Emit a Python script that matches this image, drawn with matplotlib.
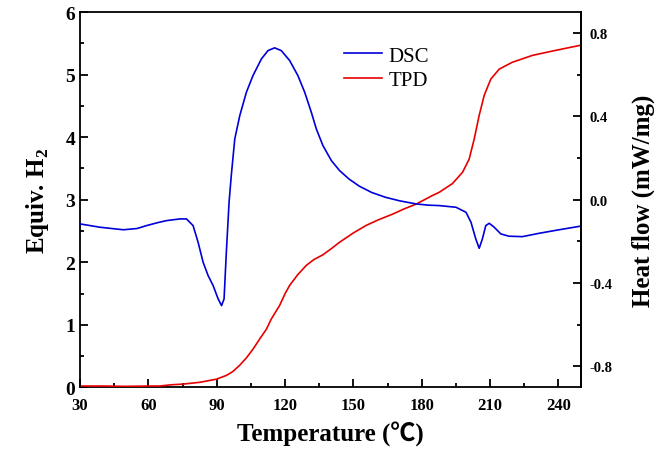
import matplotlib as mpl
import matplotlib.pyplot as plt
from matplotlib.ticker import MultipleLocator

mpl.use('Agg')
mpl.rcParams['mathtext.fontset'] = 'custom'
mpl.rcParams['mathtext.rm'] = 'Liberation Serif:bold'

# TPD curve (left axis, equiv. H2)
tpd_t = [30, 40, 50, 60, 65, 70, 75, 82.6, 89.9, 94.2, 97, 100, 103, 105.9,
         108.8, 111.8, 113.9, 117.6, 120, 122, 125.5, 129.3, 132.5, 136.6, 140,
         143.9, 150, 155.6, 161, 167.2, 172, 177.5, 184.8, 187.7, 193.5, 197.9,
         200.8, 203, 205.2, 207.4, 210.3, 214, 219.8, 228.6, 238.8, 249.5]
tpd_v = [0.02, 0.02, 0.015, 0.02, 0.02, 0.04, 0.05, 0.08, 0.13, 0.19, 0.25, 0.35,
         0.47, 0.61, 0.77, 0.93, 1.09, 1.31, 1.50, 1.63, 1.80, 1.95, 2.04, 2.12,
         2.21, 2.32, 2.47, 2.59, 2.68, 2.77, 2.85, 2.93, 3.07, 3.12, 3.26, 3.44,
         3.65, 3.97, 4.35, 4.67, 4.93, 5.09, 5.20, 5.31, 5.39, 5.47]

# DSC curve (right axis, heat flow)
dsc_t = [30, 38.8, 49, 55, 59.2, 64, 68, 73.8, 76.7, 79.6, 81.8, 84, 86.2, 88.4,
         90.6, 92.1, 93.2, 94.2, 95.4, 96.4, 97.9, 100.1, 103, 105.9, 109.6,
         112.5, 115.4, 118.3, 122, 125.6, 128.6, 131.5, 133.7, 136.6, 140.3,
         143.9, 148, 152.6, 158, 164, 170.2, 177.5, 183, 187.7, 195, 199.4,
         201.6, 203.7, 205.2, 206.6, 208.1, 209.6, 211.8, 214.7, 218.3, 224.2,
         231.5, 240.3, 249.5]
dsc_h = [-0.116, -0.132, -0.144, -0.138, -0.124, -0.11, -0.10, -0.092, -0.092,
         -0.124, -0.204, -0.30, -0.364, -0.412, -0.476, -0.508, -0.476, -0.252,
         -0.012, 0.12, 0.292, 0.404, 0.516, 0.596, 0.676, 0.716, 0.729, 0.716,
         0.668, 0.596, 0.516, 0.42, 0.34, 0.26, 0.188, 0.14, 0.10, 0.065, 0.035,
         0.012, -0.005, -0.02, -0.026, -0.028, -0.036, -0.06, -0.108, -0.188,
         -0.233, -0.188, -0.124, -0.113, -0.132, -0.164, -0.175, -0.177, -0.161,
         -0.144, -0.127]

serif = ['Liberation Serif', 'DejaVu Serif']
fig = plt.figure(figsize=(6.62, 4.56), dpi=100)
ax = fig.add_axes([0.121, 0.1485, 0.757, 0.8225])
ax2 = ax.twinx()

l2, = ax.plot(tpd_t, tpd_v, color='#e80000', lw=1.2, label='TPD')
l1, = ax2.plot(dsc_t, dsc_h, color='#0000d8', lw=1.2, label='DSC')
for side in ('bottom', 'top', 'left'):
    ax2.spines[side].set_visible(False)
ax.spines['bottom'].set_zorder(1)

ax.set_xlim(30, 250)
ax.set_ylim(0, 6)
ax2.set_ylim(-0.9, 0.9)

ax.xaxis.set_major_locator(MultipleLocator(30))
ax.xaxis.set_minor_locator(MultipleLocator(15))
ax.yaxis.set_major_locator(MultipleLocator(1))
ax.yaxis.set_minor_locator(MultipleLocator(0.5))
ax2.set_yticks([-0.8, -0.4, 0.0, 0.4, 0.8])
ax2.set_yticklabels(['-0.8', '-0.4', '0.0', '0.4', '0.8'])
ax2.yaxis.set_minor_locator(MultipleLocator(0.2))

ax.tick_params(which='major', direction='in', length=6, width=1.3)
ax.tick_params(which='minor', direction='in', length=3, width=1.3)
ax.tick_params(axis='x', pad=7)
ax2.tick_params(which='major', direction='in', length=6, width=1.3, pad=6)
ax2.tick_params(which='minor', direction='in', length=3, width=1.3)
for a in (ax, ax2):
    for s in a.spines.values():
        s.set_linewidth(1.3)

for lab in ax.get_xticklabels():
    lab.set_fontfamily(serif)
    lab.set_fontweight('bold')
    lab.set_fontsize(12)
for lab in ax.get_yticklabels():
    lab.set_fontfamily(serif)
    lab.set_fontweight('bold')
    lab.set_fontsize(14)
for lab in ax2.get_yticklabels():
    lab.set_fontfamily(serif)
    lab.set_fontweight('bold')
    lab.set_fontsize(10.5)

ax.set_xlabel('Temperature (℃)', family=['Liberation Serif', 'Noto Sans CJK SC'],
              fontweight='bold', fontsize=18, labelpad=6)
ax.set_ylabel('Equiv. H$_2$', family=serif, fontweight='bold', fontsize=18,
              labelpad=10)
ax2.set_ylabel('Heat flow (mW/mg)', family=serif, fontweight='bold', fontsize=18,
               labelpad=14)

ax.legend([l1, l2], ['DSC', 'TPD'], loc='upper left', bbox_to_anchor=(0.49, 0.96),
          frameon=False, prop={'family': serif, 'size': 15}, handlelength=1.8,
          handletextpad=0.3, labelspacing=0.25)

fig.savefig('out.png', dpi=100)
